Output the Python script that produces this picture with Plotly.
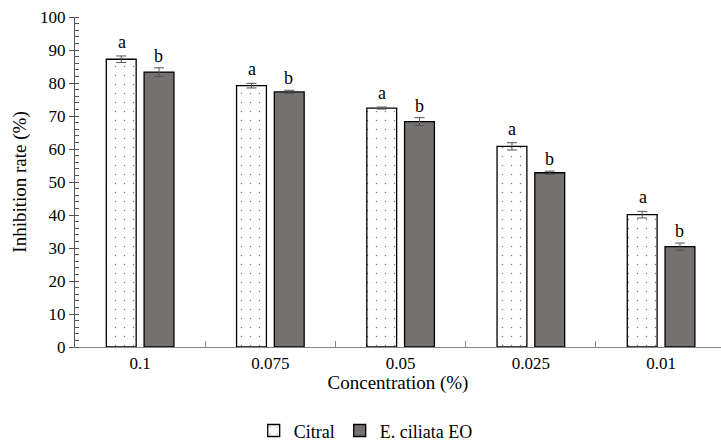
import plotly.graph_objects as go

categories = ["0.1", "0.075", "0.05", "0.025", "0.01"]
citral = [87.2, 79.2, 72.4, 60.8, 40.1]
citral_err = [1.0, 0.7, 0.3, 1.1, 1.0]
eo = [83.3, 77.3, 68.3, 52.8, 30.4]
eo_err = [1.3, 0.5, 1.2, 0.5, 1.1]
citral_letters = ["a"] * 5
eo_letters = ["b"] * 5

FONT = "Liberation Serif, Times New Roman, serif"

fig = go.Figure()
fig.add_trace(go.Bar(
    x=categories, y=citral, name="Citral",
    marker=dict(color="white", line=dict(color="black", width=1.3),
                pattern=dict(shape=".", fgcolor="black", bgcolor="white", size=9, solidity=0.02)),
    error_y=dict(type="data", array=citral_err, color="#555555", thickness=1, width=5),
))
fig.add_trace(go.Bar(
    x=categories, y=eo, name="E. ciliata EO",
    marker=dict(color="#767171", line=dict(color="black", width=1.3)),
    error_y=dict(type="data", array=eo_err, color="#555555", thickness=1, width=5),
))

for i, c in enumerate(categories):
    fig.add_annotation(x=i, y=citral[i] + citral_err[i], text=citral_letters[i], xshift=-18.5,
                       yshift=14, showarrow=False, yanchor="middle",
                       font=dict(family=FONT, size=18, color="black"))
    fig.add_annotation(x=i, y=eo[i] + eo_err[i], text=eo_letters[i], xshift=18.5,
                       yshift=12, showarrow=False, yanchor="middle",
                       font=dict(family=FONT, size=18, color="black"))

fig.update_layout(
    width=721, height=443,
    margin=dict(l=75, r=0, t=17, b=96, autoexpand=False),
    paper_bgcolor="white", plot_bgcolor="white",
    font=dict(family=FONT, size=16, color="black"),
    barmode="group", bargap=0.42, bargroupgap=0.21,
    showlegend=True,
    legend=dict(orientation="h", x=0.45, xanchor="center", y=-0.31, yanchor="bottom",
                font=dict(family=FONT, size=18), itemwidth=30, traceorder="normal"),
)
fig.update_xaxes(
    type="category", automargin=False,
    title=dict(text="Concentration (%)", font=dict(family=FONT, size=19), standoff=2),
    showline=True, linecolor="#868686", linewidth=1.2,
    ticks="inside", ticklen=6, tickcolor="#868686", tickson="boundaries",
    range=[-0.5, 4.46], tickfont=dict(size=17),
)
fig.update_yaxes(
    automargin=False,
    title=dict(text="Inhibition rate (%)", font=dict(family=FONT, size=19), standoff=8),
    range=[0, 100], dtick=10, showgrid=False, zeroline=False,
    showline=True, linecolor="#555555", linewidth=1.2,
    ticks="outside", ticklen=5, tickcolor="#555555", tickfont=dict(size=17),
    minor=dict(dtick=2, ticks="inside", ticklen=4, tickcolor="#555555", showgrid=False),
)

fig.write_html("out.html", config={"displayModeBar": False},
               post_script="document.body.style.margin='0';")
